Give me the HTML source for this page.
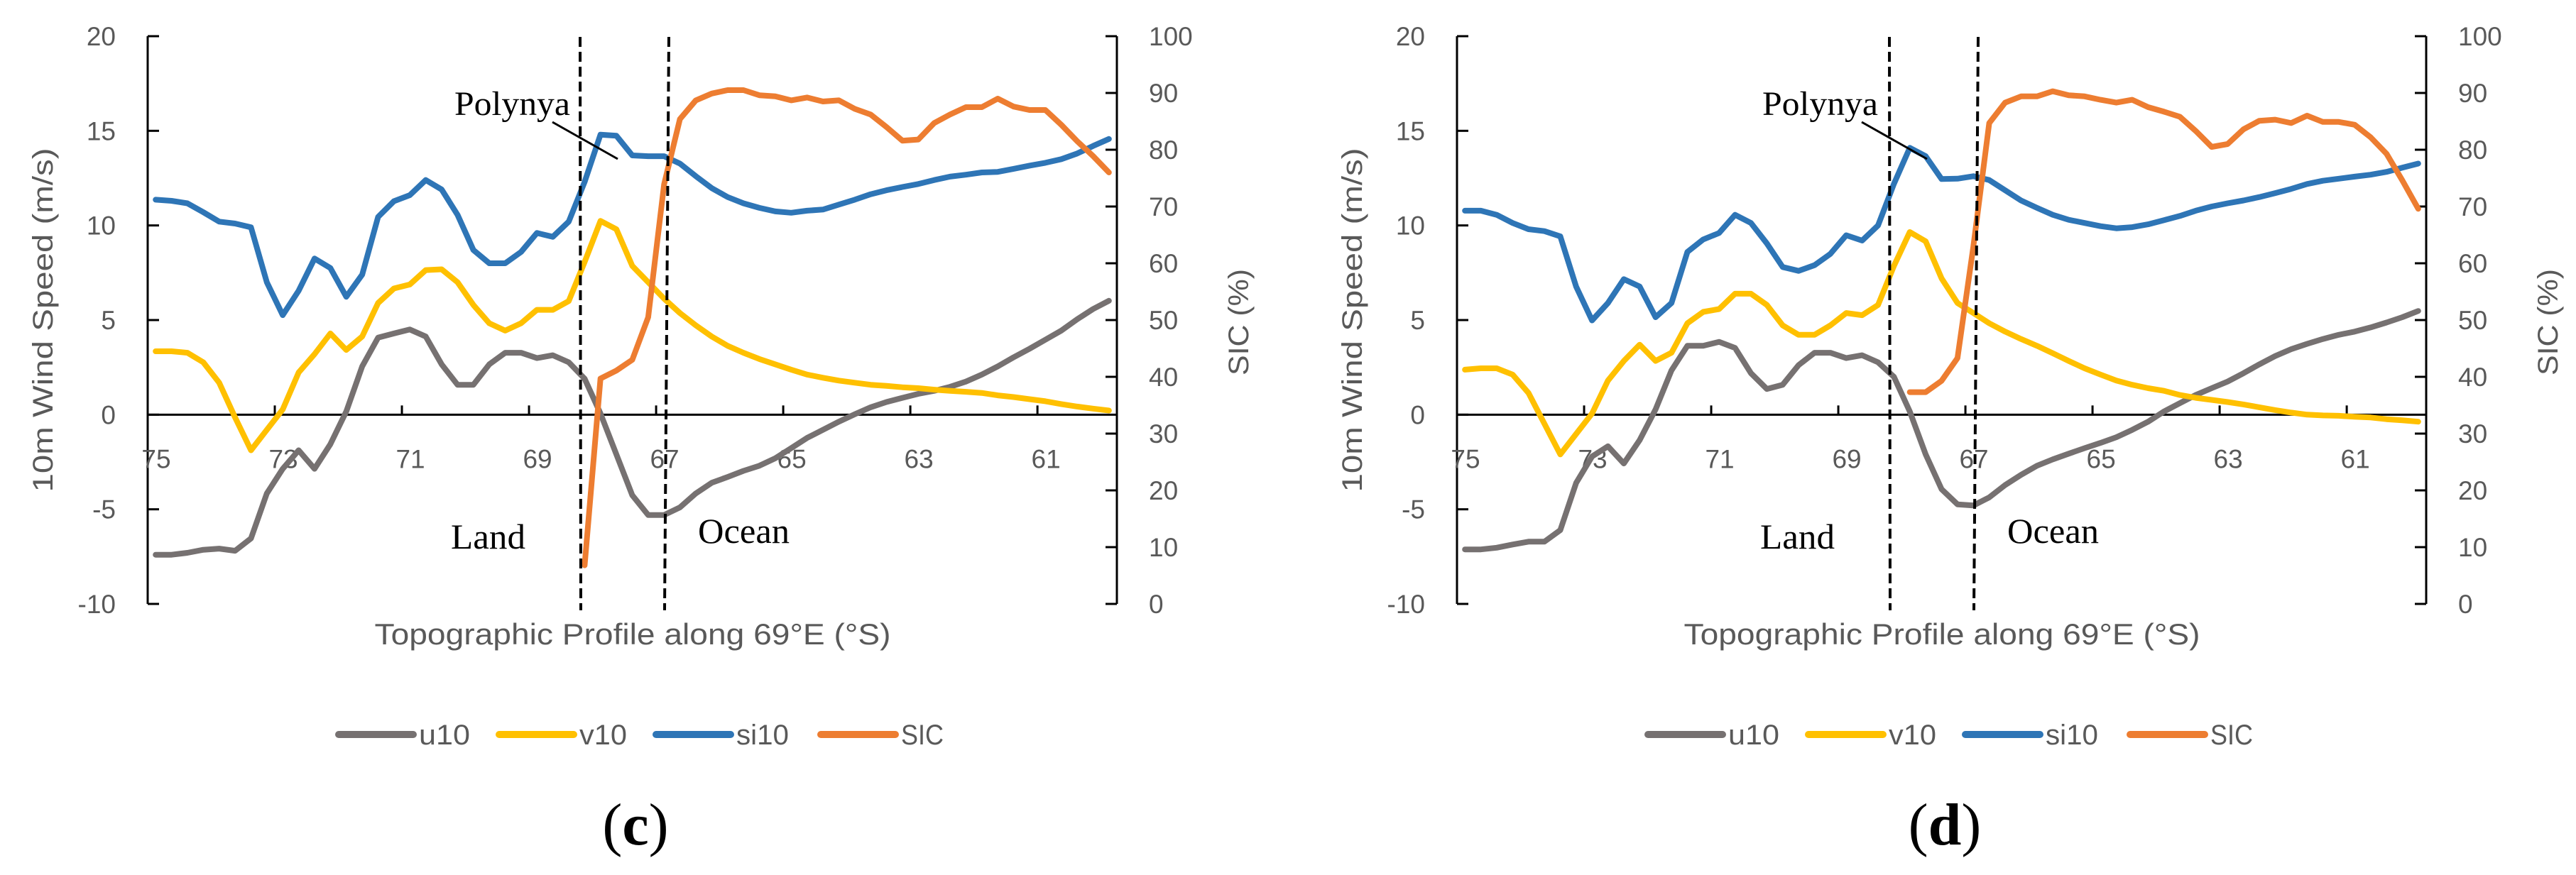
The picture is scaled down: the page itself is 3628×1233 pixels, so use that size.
<!DOCTYPE html>
<html><head><meta charset="utf-8"><style>
html,body{margin:0;padding:0;background:#fff;}
svg{display:block;}
</style></head><body>
<svg id="fig" width="3628" height="1233" viewBox="0 0 3628 1233" xmlns="http://www.w3.org/2000/svg" font-family="Liberation Sans, sans-serif"></svg>
<script>
// ---- data (latitude categories 75 -> 60 °S, step 0.25) ----
const lats = Array.from({length:61},(_, i)=>75 - i*0.25);
const xTickLabels = ["75","73","71","69","67","65","63","61"];
const yLeftTicks = [20,15,10,5,0,-5,-10];
const yRightTicks = [100,90,80,70,60,50,40,30,20,10,0];
const seriesNames = ["u10","v10","si10","SIC"];

// panel (c)
const u10_c = [-7.4,-7.4,-7.3,-7.14,-7.08,-7.19,-6.54,-4.16,-2.86,-1.88,-2.86,-1.56,0.17,2.55,4.07,4.29,4.5,4.13,2.66,1.58,1.58,2.66,3.27,3.27,2.99,3.14,2.77,1.9,0.06,-2.1,-4.26,-5.3,-5.3,-4.9,-4.16,-3.6,-3.29,-2.97,-2.7,-2.3,-1.77,-1.23,-0.8,-0.37,0.02,0.39,0.67,0.89,1.1,1.26,1.47,1.75,2.12,2.55,3.03,3.48,3.96,4.44,5.04,5.58,6.02];
const v10_c = [3.35,3.35,3.27,2.77,1.69,-0.15,-1.88,-0.8,0.28,2.23,3.2,4.29,3.42,4.13,5.9,6.67,6.88,7.64,7.68,7.0,5.8,4.83,4.44,4.83,5.54,5.54,6.0,8.07,10.24,9.8,7.86,7.0,6.13,5.37,4.72,4.13,3.64,3.27,2.94,2.66,2.38,2.12,1.95,1.8,1.69,1.58,1.52,1.45,1.4,1.32,1.26,1.21,1.15,1.02,0.93,0.82,0.71,0.56,0.43,0.32,0.22];
const si10_c = [11.36,11.3,11.17,10.7,10.2,10.1,9.9,7.0,5.26,6.55,8.25,7.75,6.23,7.4,10.45,11.28,11.6,12.4,11.9,10.56,8.7,8.0,8.0,8.6,9.6,9.4,10.2,12.3,14.8,14.74,13.7,13.66,13.66,13.27,12.6,11.97,11.5,11.17,10.93,10.74,10.67,10.78,10.84,11.1,11.36,11.65,11.86,12.03,12.19,12.4,12.58,12.68,12.8,12.83,12.99,13.16,13.31,13.5,13.8,14.2,14.57];
const sic_c = [null,null,null,null,null,null,null,null,null,null,null,null,null,null,null,null,null,null,null,null,null,null,null,null,null,null,null,6.8,39.7,41.1,43,50.5,73.9,85.4,88.7,89.9,90.5,90.5,89.6,89.4,88.7,89.2,88.5,88.7,87.2,86.2,84,81.6,81.8,84.7,86.2,87.5,87.5,89,87.6,87,87,84.4,81.5,78.9,76];

// panel (d)
const u10_d = [-7.12,-7.12,-7.03,-6.86,-6.71,-6.71,-6.1,-3.61,-2.21,-1.67,-2.58,-1.34,0.28,2.34,3.64,3.64,3.85,3.53,2.19,1.36,1.58,2.62,3.27,3.27,2.99,3.14,2.77,2.0,0.17,-2.1,-3.94,-4.74,-4.8,-4.37,-3.72,-3.18,-2.7,-2.36,-2.06,-1.77,-1.49,-1.19,-0.8,-0.37,0.17,0.61,1.04,1.4,1.75,2.19,2.66,3.1,3.46,3.74,4.0,4.22,4.39,4.61,4.87,5.15,5.48];
const v10_d = [2.38,2.45,2.45,2.12,1.15,-0.48,-2.1,-1.02,0.06,1.8,2.84,3.7,2.84,3.27,4.83,5.43,5.58,6.39,6.39,5.8,4.72,4.22,4.22,4.72,5.37,5.26,5.8,7.86,9.65,9.16,7.2,5.9,5.37,4.83,4.39,4.0,3.64,3.25,2.84,2.45,2.12,1.8,1.58,1.4,1.26,1.04,0.89,0.78,0.67,0.54,0.39,0.24,0.11,0,-0.04,-0.06,-0.11,-0.15,-0.24,-0.3,-0.37];
const si10_d = [10.78,10.78,10.56,10.13,9.8,9.7,9.42,6.77,4.98,5.9,7.16,6.77,5.15,5.9,8.6,9.26,9.6,10.56,10.13,9.05,7.8,7.6,7.9,8.5,9.48,9.2,10.0,12.2,14.1,13.66,12.45,12.47,12.6,12.4,11.86,11.32,10.93,10.56,10.3,10.13,9.96,9.85,9.91,10.06,10.28,10.5,10.78,11.0,11.17,11.32,11.5,11.71,11.93,12.19,12.36,12.47,12.58,12.68,12.83,13.05,13.27];
const sic_d = [null,null,null,null,null,null,null,null,null,null,null,null,null,null,null,null,null,null,null,null,null,null,null,null,null,null,null,null,37.3,37.3,39.3,43.3,63,84.7,88.3,89.4,89.4,90.3,89.6,89.4,88.8,88.3,88.8,87.5,86.7,85.8,83.3,80.5,81.0,83.6,85.1,85.3,84.7,86,84.9,84.9,84.4,82.2,79.3,74.6,69.6];

const colors = {u10:"#767171", v10:"#FFC000", si10:"#2E75B6", SIC:"#ED7D31"};

const NS = "http://www.w3.org/2000/svg";
const svg = document.getElementById('fig');
function mk(tag, attrs, parent){
  const e = document.createElementNS(NS, tag);
  for (const k in attrs) e.setAttribute(k, attrs[k]);
  (parent||svg).appendChild(e);
  return e;
}
const SERIF = 'font-family:"Liberation Serif",serif';

function drawPanel(off, id, u, v, s, sic){
  const g = mk('g', {});
  
  
  const X0 = 208 + off, X1 = 1573 + off;
  const n = lats.length, w = (X1 - X0) / n;
  const xCat = i => X0 + (i + 0.5) * w;
  const xBound = k => X0 + k * w;
  const yL = val => 51 + (20 - val) * (800 / 30);
  const yR = val => 851 - val * 8;

  const axL = mk('line', {x1:X0, y1:51, x2:X0, y2:851, stroke:'#000', 'stroke-width':3}, g);
  
  
  const axR = mk('line', {x1:X1, y1:51, x2:X1, y2:851, stroke:'#000', 'stroke-width':3}, g);
  
  
  const axX = mk('line', {x1:X0, y1:yL(0), x2:X1, y2:yL(0), stroke:'#000', 'stroke-width':3}, g);
  
  

  yLeftTicks.forEach(t => {
    mk('line', {x1:X0, y1:yL(t), x2:X0+16, y2:yL(t), stroke:'#000', 'stroke-width':3}, g);
    const tx = mk('text', {x:X0-45, y:yL(t)+13, 'text-anchor':'end', 'font-size':37, fill:'#595959'}, g);
    tx.textContent = String(t);
    
    
  });
  yRightTicks.forEach(t => {
    mk('line', {x1:X1-16, y1:yR(t), x2:X1, y2:yR(t), stroke:'#000', 'stroke-width':3}, g);
    const tx = mk('text', {x:X1+45, y:yR(t)+13, 'text-anchor':'start', 'font-size':37, fill:'#595959'}, g);
    tx.textContent = String(t);
    
    
  });
  xTickLabels.forEach((lab, k) => {
    const bx = xBound(k * 8);
    if (k > 0) mk('line', {x1:bx, y1:yL(0)-13, x2:bx, y2:yL(0), stroke:'#000', 'stroke-width':3}, g);
    const tx = mk('text', {x:bx+12, y:yL(0)+75, 'text-anchor':'middle', 'font-size':37, fill:'#595959'}, g);
    tx.textContent = lab;
    
    
  });

  const data = {u10:u, v10:v, si10:s, SIC:sic};
  seriesNames.forEach(name => {
    const arr = data[name];
    const yf = name === 'SIC' ? yR : yL;
    let d = '';
    arr.forEach((val, i) => {
      if (val === null || val === undefined) return;
      d += (d ? 'L' : 'M') + xCat(i).toFixed(1) + ',' + yf(val).toFixed(1);
    });
    const p = mk('path', {d:d, fill:'none', stroke:colors[name], 'stroke-width':8, 'stroke-linejoin':'round', 'stroke-linecap':'round'}, g);
    
    
  });

  const d1 = mk('line', {x1:817+off, y1:52, x2:818+off, y2:860, stroke:'#000', 'stroke-width':4, 'stroke-dasharray':'14,7'}, g);
  
  
  const d2 = mk('line', {x1:942+off, y1:52, x2:936+off, y2:860, stroke:'#000', 'stroke-width':4, 'stroke-dasharray':'14,7'}, g);
  
  

  const pt = mk('text', {x:(id==='c'?640:638)+off, y:162, 'font-size':48, style:SERIF, fill:'#000', textLength:163, lengthAdjust:'spacingAndGlyphs'}, g);
  pt.textContent = 'Polynya';
  
  
  mk('line', {x1:778+off, y1:172, x2:870+off, y2:224, stroke:'#000', 'stroke-width':3}, g);
  const lt = mk('text', {x:635+off, y:773, 'font-size':50, style:SERIF, fill:'#000', textLength:105, lengthAdjust:'spacingAndGlyphs'}, g);
  lt.textContent = 'Land';
  
  
  const ot = mk('text', {x:983+off, y:765, 'font-size':50, style:SERIF, fill:'#000', textLength:129, lengthAdjust:'spacingAndGlyphs'}, g);
  ot.textContent = 'Ocean';
  
  

  const yt = mk('text', {x:0, y:0, 'text-anchor':'middle', 'font-size':40, fill:'#595959', transform:'translate('+(74+off)+',451) rotate(-90)', textLength:485, lengthAdjust:'spacingAndGlyphs'}, g);
  yt.textContent = '10m Wind Speed (m/s)';
  
  
  const rt = mk('text', {x:0, y:0, 'text-anchor':'middle', 'font-size':40, fill:'#595959', transform:'translate('+(1758+off)+',454) rotate(-90)', textLength:150, lengthAdjust:'spacingAndGlyphs'}, g);
  rt.textContent = 'SIC (%)';
  
  
  const xt = mk('text', {x:891+off, y:908, 'text-anchor':'middle', 'font-size':42, fill:'#595959', textLength:727, lengthAdjust:'spacingAndGlyphs'}, g);
  xt.textContent = 'Topographic Profile along 69°E (°S)';
  
  

  const legX = [477, 703, 924, 1156];
  const legW = [72, 67, 74, 60];
  seriesNames.forEach((name, k) => {
    const lg = mk('g', {}, g);
    
    
    mk('line', {x1:legX[k]+off, y1:1035, x2:legX[k]+105+off, y2:1035, stroke:colors[name], 'stroke-width':10, 'stroke-linecap':'round'}, lg);
    const t = mk('text', {x:legX[k]+113+off, y:1049, 'font-size':40, fill:'#595959', textLength:legW[k], lengthAdjust:'spacingAndGlyphs'}, lg);
    t.textContent = name;
  });

  const cap = mk('text', {x:895+off, y:1190, 'text-anchor':'middle', 'font-size':84, style:SERIF, fill:'#000'}, g);
  cap.innerHTML = '(<tspan font-weight="bold">' + id + '</tspan>)';
  
  
}

drawPanel(0, 'c', u10_c, v10_c, si10_c, sic_c);
drawPanel(1844, 'd', u10_d, v10_d, si10_d, sic_d);
</script>
</body></html>
